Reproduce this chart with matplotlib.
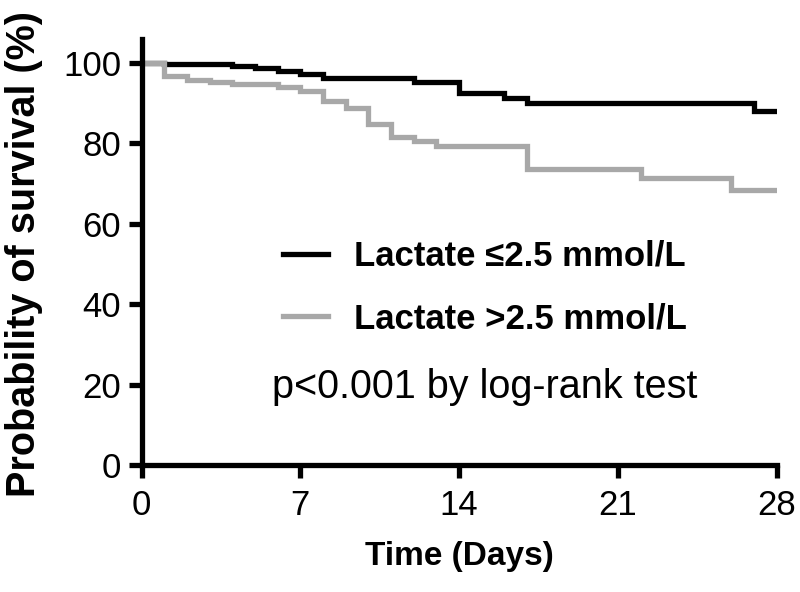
import matplotlib
matplotlib.use("Agg")
import matplotlib.pyplot as plt
from matplotlib.lines import Line2D

# ---- data ----
low_days = [0, 1, 4, 5, 6, 7, 8, 12, 14, 16, 17, 27, 28]
low_surv = [100, 99.7, 99.2, 98.7, 98.1, 97.4, 96.3, 95.4, 92.5, 91.3, 90.0, 88.0, 88.0]

high_days = [0, 1, 2, 3, 4, 6, 7, 8, 9, 10, 11, 12, 13, 17, 22, 26, 28]
high_surv = [100, 96.9, 95.9, 95.2, 94.8, 94.0, 93.0, 90.6, 88.8, 84.8, 81.7, 80.7, 79.3,
             73.6, 71.3, 68.4, 68.4]

x_ticks = [0, 7, 14, 21, 28]
y_ticks = [0, 20, 40, 60, 80, 100]
labels = ["Lactate \u22642.5 mmol/L", "Lactate >2.5 mmol/L"]
colors = ["#000000", "#a8a8a8"]
p_text = "p<0.001 by log-rank test"

plt.rcParams['font.family'] = ['Liberation Sans', 'DejaVu Sans']

W, H = 800, 592
fig = plt.figure(figsize=(W / 100, H / 100), dpi=100)
left_px, right_px, bottom_px, top_px = 141.5, 776.7, 465, 39
ax = fig.add_axes([left_px / W, 1 - bottom_px / H,
                   (right_px - left_px) / W, (bottom_px - top_px) / H])

lw = 3.8
ax.step(low_days, low_surv, where='post', color=colors[0], lw=lw, solid_joinstyle='miter')
ax.step(high_days, high_surv, where='post', color=colors[1], lw=lw, solid_joinstyle='miter')

ax.set_xlim(0, 28)
ax.set_ylim(0, 106)
ax.set_xticks(x_ticks)
ax.set_yticks(y_ticks)

for s in ['top', 'right']:
    ax.spines[s].set_visible(False)
for s in ['left', 'bottom']:
    ax.spines[s].set_linewidth(lw)
    ax.spines[s].set_capstyle('projecting')

ax.tick_params(axis='both', direction='out', length=9.2, width=lw, labelsize=25, color='black')
ax.tick_params(axis='x', pad=8)
ax.tick_params(axis='y', pad=5.5)

ax.set_xlabel("Time (Days)", fontsize=24, fontweight='bold')
ax.set_ylabel("Probability of survival (%)", fontsize=28.5, fontweight='bold')
ax.xaxis.set_label_coords(459 / W, 1 - 557 / H, transform=fig.transFigure)
ax.yaxis.set_label_coords(24 / W, 1 - 254 / H, transform=fig.transFigure)
ax.xaxis.label.set_va('center')
ax.yaxis.label.set_va('center')

handles = [Line2D([], [], color=colors[0], lw=lw), Line2D([], [], color=colors[1], lw=lw)]
leg = ax.legend(handles, labels, loc='center left',
                bbox_to_anchor=(283 / W, 1 - 287.5 / H), bbox_transform=fig.transFigure,
                frameon=False, borderpad=0, borderaxespad=0,
                handlelength=1.3, handletextpad=0.75, labelspacing=0.85,
                prop={'size': 25, 'weight': 'bold'})

fig.text(272 / W, 1 - 398 / H, p_text, fontsize=28.5, ha='left', va='baseline')

fig.savefig("out.png", dpi=100)
